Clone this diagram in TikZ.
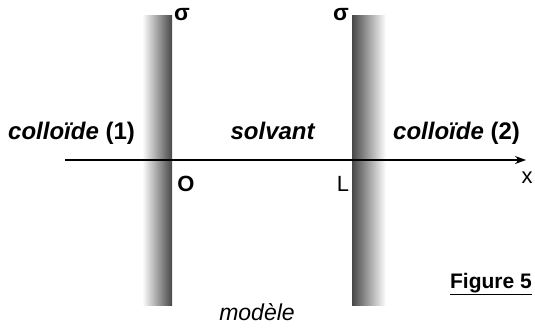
\documentclass[tikz,border=0pt]{standalone}
\usepackage{fontspec}
\setmainfont{Liberation Sans}
\usetikzlibrary{arrows.meta}

\begin{document}
\begin{tikzpicture}[x=1pt,y=-1pt,
    lbl/.style={font=\fontsize{24}{28}\selectfont\bfseries, inner sep=0pt},
    sym/.style={font=\fontsize{22}{26}\selectfont, inner sep=0pt}]
        \useasboundingbox (0,0) rectangle (535,327);

        % Draw walls
        \shade[left color=white, right color=black!72] (142,15) rectangle (172,305);
        \shade[left color=black!72, right color=white] (352,15) rectangle (386,305);

        % Draw axis
        \coordinate (start) at (65,160);
        \coordinate (end) at (526,160);
        \draw[line width=1.2pt, -{Stealth[length=11pt,width=8pt]}] (start) -- (end);

        % Labels
        \node[lbl, anchor=base west] (c1) at (8,139) {\textit{colloïde} (1)};
        \node[lbl, anchor=base] (solv) at (273,139) {\textit{solvant}};
        \node[lbl, anchor=base west] (c2) at (393,139) {\textit{colloïde} (2)};
        \node[lbl, font=\fontsize{22}{26}\selectfont\bfseries, anchor=base] (O) at (186,191) {O};
        \node[sym, anchor=base] (L) at (343,191) {L};
        \node[sym, anchor=base] (x) at (527,183) {x};
        \node[sym, font=\fontsize{23}{26}\selectfont\bfseries, anchor=base] (s1) at (182,20) {σ};
        \node[sym, font=\fontsize{23}{26}\selectfont\bfseries, anchor=base] (s2) at (341,20) {σ};

        % Figure caption
        \node[lbl, font=\fontsize{21}{24}\selectfont\bfseries, anchor=base east] (fig) at (532,288) {\underline{Figure 5}};
        \node[sym, font=\fontsize{23}{26}\selectfont\itshape, anchor=base] (mod) at (257,320) {modèle};
\end{tikzpicture}
\end{document}
